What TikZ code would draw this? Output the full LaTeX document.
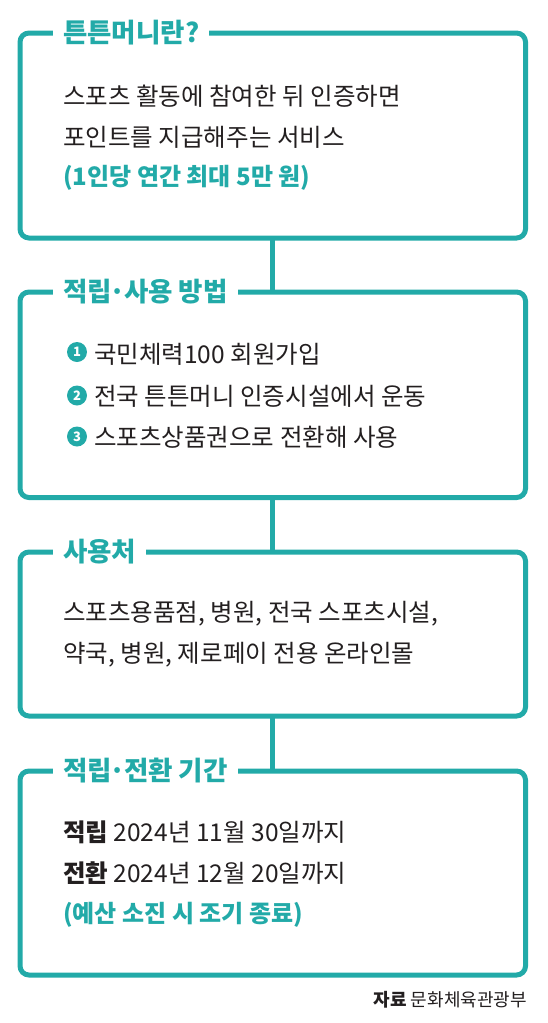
\documentclass[tikz,border=0pt]{standalone}
\usepackage{fontspec}
\setmainfont{Noto Sans CJK KR}
\definecolor{tealc}{HTML}{22AAA8}
\definecolor{inkc}{HTML}{231F20}
\newcommand{\middot}{{\kern-2pt}·{\kern-2pt}}
\begin{document}
\begin{tikzpicture}[x=1pt,y=-1pt,
  box/.style={draw=tealc, line width=5pt, rounded corners=9pt, outer sep=0pt, inner sep=0pt, minimum width=505.5pt},
  conn/.style={draw=tealc, line width=5pt},
  titlec/.style={fill=white, anchor=west, inner xsep=10pt, inner ysep=2pt, text=tealc, font=\fontsize{26.5}{30}\selectfont\bfseries},
  body/.style={anchor=west, inner sep=0pt, text=inkc, font=\fontsize{24.5}{28}\selectfont},
  accent/.style={anchor=west, inner sep=0pt, text=tealc, font=\fontsize{24}{28}\selectfont\bfseries},
  numc/.style={circle, fill=tealc, text=white, inner sep=0pt, minimum size=20pt, font=\fontsize{13}{13}\selectfont\bfseries},
  srcc/.style={anchor=east, inner sep=0pt, text=inkc, font=\fontsize{18}{20}\selectfont}
]
\useasboundingbox (0,0) rectangle (547,1023);
% boxes
\node[box, minimum height=205pt] (b1) at (272.75,135.5) {};
\node[box, minimum height=205.5pt] (b2) at (272.75,394.75) {};
\node[box, minimum height=164pt] (b3) at (272.75,634) {};
\node[box, minimum height=204pt] (b4) at (272.75,873) {};
% connectors
\draw[conn] (b1.south) -- (b2.north);
\draw[conn] (b2.south) -- (b3.north);
\draw[conn] (b3.south) -- (b4.north);
% titles
\node[titlec] (t1) at (53,33) {튼튼머니란?};
\node[titlec] (t2) at (53,292) {적립\middot 사용 방법};
\node[titlec] (t3) at (53,552) {사용처};
\node[titlec] (t4) at (53,771) {적립\middot 전환 기간};
% box 1
\node[body] (l11) at (63,96) {스포츠 활동에 참여한 뒤 인증하면};
\node[body] (l12) at (63,137) {포인트를 지급해주는 서비스};
\node[accent] (l13) at (63,178) {(1인당 연간 최대 5만 원)};
% box 2
\node[numc] (n1) at (77,352) {1};
\node[numc] (n2) at (77,395.5) {2};
\node[numc] (n3) at (77,436.5) {3};
\node[body] (l21) at (94,354) {국민체력100 회원가입};
\node[body] (l22) at (94,396) {전국 튼튼머니 인증시설에서 운동};
\node[body] (l23) at (94,437) {스포츠상품권으로 전환해 사용};
% box 3
\node[body] (l31) at (63,614) {스포츠용품점, 병원, 전국 스포츠시설,};
\node[body] (l32) at (63,655) {약국, 병원, 제로페이 전용 온라인몰};
% box 4
\node[body] (l41) at (63,832) {\textbf{적립} 2024년 11월 30일까지};
\node[body] (l42) at (63,873) {\textbf{전환} 2024년 12월 20일까지};
\node[accent] (l43) at (63,915) {(예산 소진 시 조기 종료)};
% source
\node[srcc] (src) at (527,1000) {\textbf{자료} 문화체육관광부};
\end{tikzpicture}
\end{document}
